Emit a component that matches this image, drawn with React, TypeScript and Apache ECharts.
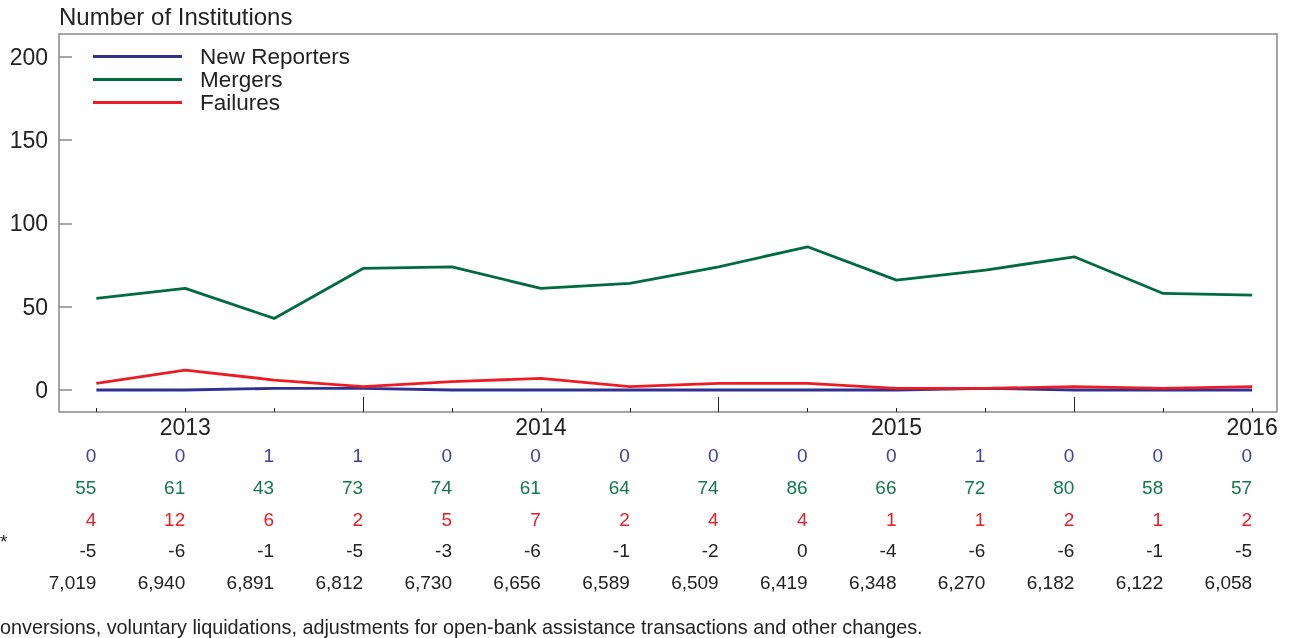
import React, { useEffect, useRef } from "react";
import * as echarts from "echarts";

const quarters = ["2013Q1","2013Q2","2013Q3","2013Q4","2014Q1","2014Q2","2014Q3","2014Q4","2015Q1","2015Q2","2015Q3","2015Q4","2016Q1","2016Q2"];
const yearLabels: Record<number, string> = { 1: "2013", 5: "2014", 9: "2015", 13: "2016" };
const newReporters = [0, 0, 1, 1, 0, 0, 0, 0, 0, 0, 1, 0, 0, 0];
const mergers = [55, 61, 43, 73, 74, 61, 64, 74, 86, 66, 72, 80, 58, 57];
const failures = [4, 12, 6, 2, 5, 7, 2, 4, 4, 1, 1, 2, 1, 2];
const otherChanges = [-5, -6, -1, -5, -3, -6, -1, -2, 0, -4, -6, -6, -1, -5];
const totals = [7019, 6940, 6891, 6812, 6730, 6656, 6589, 6509, 6419, 6348, 6270, 6182, 6122, 6058];
const yTicks = [0, 50, 100, 150, 200];

const FONT = "'Liberation Sans', Arial, sans-serif";
const BLUE = "#2e3192";
const GREEN = "#006b3f";
const RED = "#ed1c24";
const XMIN = -0.42;
const XMAX = 13.28;
const idx = quarters.map((_, i) => i);

export default function App() {
  const ref = useRef<HTMLDivElement>(null);
  useEffect(() => {
    const chart = echarts.init(ref.current!, null, { renderer: "svg" });
    const tableRow = (vals: number[], color: string, offset: number, fmt = false) => ({
      type: "value",
      gridIndex: 0,
      position: "bottom",
      min: XMIN,
      max: XMAX,
      offset,
      axisLine: { show: false, onZero: false },
      axisTick: { show: false },
      splitLine: { show: false },
      axisLabel: {
        customValues: idx,
        margin: 0,
        align: "right",
        color,
        fontFamily: FONT,
        fontSize: 19,
        lineHeight: 20,
        formatter: (v: number) => {
          const n = vals[Math.round(v)];
          return fmt ? n.toLocaleString("en-US") : String(n);
        },
      },
    });
    chart.setOption({
      animation: false,
      title: {
        text: "Number of Institutions",
        left: 59,
        top: 4,
        padding: 0,
        textStyle: { fontFamily: FONT, fontSize: 24, fontWeight: "normal", color: "#222" },
      },
      legend: {
        orient: "vertical",
        left: 93,
        top: 45,
        padding: 0,
        icon: "rect",
        itemWidth: 89,
        itemHeight: 3,
        itemGap: 0,
        textStyle: { fontFamily: FONT, fontSize: 22.5, lineHeight: 23, color: "#222", padding: [0, 0, 0, 13] },
        data: ["New Reporters", "Mergers", "Failures"],
      },
      grid: {
        left: 59,
        right: 21,
        top: 34,
        bottom: 226,
        show: true,
        borderColor: "#888",
        borderWidth: 1.5,
      },
      xAxis: [
        {
          type: "value",
          min: XMIN,
          max: XMAX,
          position: "bottom",
          axisLine: { show: false, onZero: false },
          splitLine: { show: false },
          axisTick: { show: true, inside: true, length: 4, customValues: idx, lineStyle: { color: "#222", width: 1 } },
          axisLabel: {
            customValues: [1, 5, 9, 13],
            margin: 3,
            fontFamily: FONT,
            fontSize: 23,
            lineHeight: 24,
            color: "#222",
            formatter: (v: number) => yearLabels[Math.round(v)] ?? "",
          },
        },
        {
          type: "value",
          min: XMIN,
          max: XMAX,
          position: "bottom",
          axisLine: { show: false, onZero: false },
          splitLine: { show: false },
          axisTick: { show: true, inside: true, length: 15, customValues: [3, 7, 11], lineStyle: { color: "#222", width: 1 } },
          axisLabel: { show: false },
        },
        tableRow(newReporters, "#3d429a", 33),
        tableRow(mergers, "#127a4a", 65),
        tableRow(failures, RED, 97),
        tableRow(otherChanges, "#222", 128),
        tableRow(totals, "#222", 160, true),
      ],
      yAxis: {
        type: "value",
        min: -13.2,
        max: 213.8,
        axisLine: { show: false, onZero: false },
        splitLine: { show: false },
        axisTick: { show: true, inside: true, length: 13, customValues: yTicks, lineStyle: { color: "#888", width: 1.5 } },
        axisLabel: { customValues: yTicks, margin: 11, fontFamily: FONT, fontSize: 23, color: "#222" },
      },
      graphic: [
        { type: "text", left: 0, top: 532, style: { text: "*", fontFamily: FONT, fontSize: 19, fill: "#222" } },
        {
          type: "text",
          left: 0,
          top: 617,
          style: {
            text: "onversions, voluntary liquidations, adjustments for open-bank assistance transactions and other changes.",
            fontFamily: FONT,
            fontSize: 19.8,
            fill: "#222",
          },
        },
      ],
      series: [
        { name: "New Reporters", type: "line", xAxisIndex: 0, data: newReporters.map((v, i) => [i, v]), showSymbol: false, lineStyle: { color: BLUE, width: 2.8 }, itemStyle: { color: BLUE } },
        { name: "Mergers", type: "line", xAxisIndex: 0, data: mergers.map((v, i) => [i, v]), showSymbol: false, lineStyle: { color: GREEN, width: 2.8 }, itemStyle: { color: GREEN } },
        { name: "Failures", type: "line", xAxisIndex: 0, data: failures.map((v, i) => [i, v]), showSymbol: false, lineStyle: { color: RED, width: 2.8 }, itemStyle: { color: RED } },
      ],
    });
    return () => chart.dispose();
  }, []);
  return <div ref={ref} style={{ position: "fixed", left: 0, top: 0, width: 1298, height: 638 }} />;
}
